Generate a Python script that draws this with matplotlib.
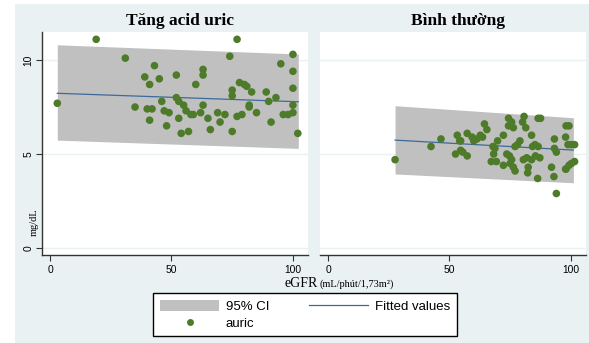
import matplotlib.pyplot as plt
from matplotlib.patches import Rectangle, Patch
from matplotlib.lines import Line2D

# ---- data ----
left_egfr = [3, 19, 31, 35, 39, 40, 41, 41, 42, 43, 45, 46, 47, 48, 49, 52, 52, 53, 53, 54,
             55, 56, 57, 58, 59, 60, 62, 63, 63, 63, 65, 66, 69, 70, 72, 74, 75, 75, 75, 77,
             77, 78, 79, 80, 81, 82, 82, 83, 85, 89, 90, 91, 93, 95, 96, 98, 100, 100, 100,
             100, 100, 102]
left_auric = [7.7, 11.1, 10.1, 7.5, 9.1, 7.4, 8.7, 6.8, 7.4, 9.7, 9.0, 7.8, 7.3, 6.5, 7.2, 9.2,
              8.0, 7.8, 6.9, 6.1, 7.6, 7.3, 6.2, 7.1, 7.1, 8.7, 7.2, 9.5, 9.2, 7.6, 6.9, 6.3,
              7.2, 6.7, 7.1, 10.2, 8.4, 8.1, 6.2, 11.1, 7.0, 8.8, 7.1, 8.7, 8.6, 7.6, 7.5, 8.3,
              7.2, 8.3, 7.8, 6.7, 8.0, 9.8, 7.1, 7.1, 7.2, 10.3, 9.4, 8.5, 7.6, 6.1]

right_egfr = [27.6, 42.4, 46.5, 53.2, 54.2, 54.6, 52.5, 54.6, 55.5, 57.3, 57.3, 59.3, 60.0,
              61.3, 62.7, 63.6, 64.4, 65.4, 67.9, 68.7, 67.2, 69.3, 68.2, 69.8, 72.2, 72.2,
              74.3, 75.6, 76.3, 74.3, 73.6, 74.7, 75.6, 75.0, 76.3, 77.0, 77.0, 78.0, 79.0,
              80.1, 80.7, 81.4, 80.4, 81.8, 82.4, 82.2, 83.8, 84.2, 85.2, 86.5, 83.8, 85.4,
              87.2, 86.5, 87.5, 86.3, 92.0, 93.2, 93.2, 94.0, 93.0, 94.0, 98.0, 99.2, 97.8,
              98.8, 100.2, 101.5, 98.0, 99.2, 100.2, 101.5, 97.8]
right_auric = [4.7, 5.4, 5.8, 6.0, 5.7, 5.7, 5.0, 5.2, 5.1, 4.9, 6.1, 5.9, 5.7, 5.8, 6.0, 5.9,
               6.6, 6.3, 5.4, 5.3, 4.6, 4.6, 5.0, 5.7, 6.0, 4.4, 6.9, 6.7, 6.4, 6.5, 5.0, 4.9,
               4.7, 4.5, 4.3, 4.1, 5.4, 5.5, 5.7, 6.7, 7.0, 6.4, 4.7, 4.8, 4.3, 4.0, 6.0, 5.4,
               5.5, 5.4, 4.7, 4.9, 4.8, 6.9, 6.9, 3.7, 4.3, 5.8, 5.3, 5.1, 3.8, 2.9, 6.5, 6.5,
               5.9, 5.5, 5.5, 5.5, 4.2, 4.4, 4.5, 4.6, 4.2]

# fitted line and 95% CI at the ends of each band
left_fit_x = [3, 102.2]
left_fit = [8.23, 7.78]
left_lo = [5.74, 5.30]
left_hi = [10.81, 10.32]

right_fit_x = [27.6, 101.0]
right_fit = [5.74, 5.21]
right_lo = [3.94, 3.47]
right_hi = [7.57, 6.93]

titles = ["Tăng acid uric", "Bình thường"]

# ---- style ----
W, H = 589, 343
bg = "#EAF1F3"
green = "#4E7B2A"
blue = "#3D6A98"
band = "#C0C0C0"

plt.rcParams["font.family"] = ["Liberation Sans", "DejaVu Sans"]

fig = plt.figure(figsize=(W / 100, H / 100), dpi=100, facecolor="white")
fig.patches.append(Rectangle((15 / W, 0), 1, (H - 4) / H, transform=fig.transFigure,
                             facecolor=bg, edgecolor="none", zorder=-10))


def px_axes(x0, y0, x1, y1):
    return fig.add_axes([x0 / W, 1 - y1 / H, (x1 - x0) / W, (y1 - y0) / H])


ax1 = px_axes(42, 32, 308, 255)
ax2 = px_axes(320, 32, 586, 255)

panels = [
    (ax1, left_egfr, left_auric, left_fit_x, left_fit, left_lo, left_hi),
    (ax2, right_egfr, right_auric, right_fit_x, right_fit, right_lo, right_hi),
]

for i, (ax, ex, ey, fx, fy, lo, hi) in enumerate(panels):
    ax.set_facecolor("white")
    ax.fill_between(fx, lo, hi, color=band, lw=0, zorder=1)
    ax.plot(fx, fy, color=blue, lw=0.9, zorder=2)
    ax.scatter(ex, ey, s=30, color=green, edgecolors="none", zorder=3)
    ax.set_xlim(-3.3, 106.2)
    ax.set_ylim(-0.37, 11.49)
    ax.set_xticks([0, 50, 100])
    ax.set_yticks([0, 5, 10])
    for v in [0, 5, 10]:
        ax.axhline(v, color=bg, lw=1, zorder=0)
    for s in ["top", "right"]:
        ax.spines[s].set_visible(False)
    ax.spines["bottom"].set_color("#333333")
    ax.spines["bottom"].set_linewidth(1)
    ax.tick_params(axis="x", direction="out", length=4, width=0.8, color="#333333",
                   labelsize=7.4, pad=3)
    if i == 0:
        ax.spines["left"].set_color("#333333")
        ax.spines["left"].set_linewidth(1)
        ax.tick_params(axis="y", direction="out", length=4, width=0.8, color="#333333",
                       labelsize=7.4, pad=2)
        for lab in ax.get_yticklabels():
            lab.set_rotation(90)
            lab.set_va("center")
    else:
        ax.spines["left"].set_visible(False)
        ax.tick_params(axis="y", left=False, labelleft=False)

# panel titles
fig.text(180 / W, 1 - 21 / H, titles[0], ha="center", va="center",
         family="Liberation Serif", weight="bold", fontsize=12.5)
fig.text(458 / W, 1 - 21 / H, titles[1], ha="center", va="center",
         family="Liberation Serif", weight="bold", fontsize=12.5)

# axis labels
fig.text(34 / W, 1 - 222 / H, "mg/dL", rotation=90, ha="center", va="center",
         family="Liberation Serif", fontsize=7.5)
fig.text(318 / W, 1 - 287 / H, "eGFR", ha="right", va="baseline",
         family="Liberation Serif", fontsize=10)
fig.text(320 / W, 1 - 287 / H, "(mL/phút/1,73m²)", ha="left", va="baseline",
         family="Liberation Serif", fontsize=7.5)

# legend
handles = [
    Patch(facecolor=band, edgecolor="none"),
    Line2D([], [], marker="o", ls="none", color=green, markersize=5, markeredgewidth=0),
    Line2D([], [], color=blue, lw=0.9),
]
labels = ["95% CI", "auric", "Fitted values"]
leg = fig.legend(handles, labels, ncol=2, loc="upper center",
                 bbox_to_anchor=(305 / W, 1 - 293 / H), fontsize=9.5,
                 frameon=True, fancybox=False, edgecolor="black", facecolor="white",
                 handlelength=4.5, handleheight=1.0, handletextpad=0.5, columnspacing=3.0,
                 labelspacing=0.25, borderpad=0.5, borderaxespad=0)
leg.get_frame().set_linewidth(1)
leg.get_frame().set_alpha(1)

fig.savefig("out.png", dpi=100, facecolor="white")
